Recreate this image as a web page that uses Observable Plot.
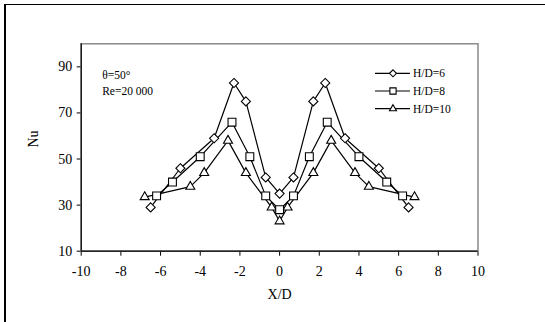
<!DOCTYPE html>
<html>
<head>
<meta charset="utf-8">
<script src="https://cdn.jsdelivr.net/npm/d3@7"></script>
<script src="https://cdn.jsdelivr.net/npm/@observablehq/plot@0.6"></script>
<style>
  html, body { margin: 0; padding: 0; background: #fff; }
  #wrap { position: relative; width: 545px; height: 322px; overflow: hidden; }
  #outer { position: absolute; left: 4px; top: 4px; right: -2px; bottom: -2px;
           border-left: 2px solid #000; border-top: 1.5px solid #000; pointer-events: none; }
  svg { display: block; }
</style>
</head>
<body>
<div id="wrap"><div id="outer"></div></div>
<script>
// Data
const xTicks = [-10, -8, -6, -4, -2, 0, 2, 4, 6, 8, 10];
const yTicks = [10, 30, 50, 70, 90];

const seriesNames = ["H/D=6", "H/D=8", "H/D=10"];
const seriesSymbols = ["diamond2", "square2", "triangle2"];

const xs6  = [-6.5, -5.0, -3.3, -2.3, -1.7, -0.7, 0, 0.7, 1.7, 2.3, 3.3, 5.0, 6.5];
const nu6  = [29, 46, 59, 83, 75, 42, 35, 42, 75, 83, 59, 46, 29];
const xs8  = [-6.2, -5.4, -4.0, -2.4, -1.5, -0.7, 0, 0.7, 1.5, 2.4, 4.0, 5.4, 6.2];
const nu8  = [34, 40, 51, 66, 51, 34, 28, 34, 51, 66, 51, 40, 34];
const xs10 = [-6.8, -4.5, -3.8, -2.6, -1.7, -0.4, 0, 0.4, 1.7, 2.6, 3.8, 4.5, 6.8];
const nu10 = [33.5, 38, 44, 58, 44, 29, 23, 29, 44, 58, 44, 38, 33.5];

const annotations = ["θ=50°", "Re=20 000"];

const toRows = (xs, ys) => xs.map((x, i) => ({x, y: ys[i]}));
const s6 = toRows(xs6, nu6);
const s8 = toRows(xs8, nu8);
const s10 = toRows(xs10, nu10);

const serif = "'Liberation Serif', 'Times New Roman', serif";

const chart = Plot.plot({
  width: 545,
  height: 322,
  marginLeft: 80.7,
  marginRight: 67.5,
  marginTop: 43.3,
  marginBottom: 71.3,
  style: {fontFamily: serif, fontSize: "14px", color: "#000", background: "transparent"},
  x: {domain: [-10, 10], ticks: xTicks, tickSize: 5, tickPadding: 10, label: null, tickFormat: d => String(d).replace("−", "-")},
  y: {domain: [10, 100], ticks: yTicks, tickSize: 4, tickPadding: 5, label: null},
  marks: [
    Plot.frame({stroke: "#8a8a8a", strokeWidth: 1.5}),
    Plot.ruleX([-10], {stroke: "#000", strokeWidth: 1.2}),
    Plot.ruleY([10], {stroke: "#000", strokeWidth: 1.2}),
    Plot.line(s10, {x: "x", y: "y", stroke: "#000", strokeWidth: 1.2}),
    Plot.line(s8, {x: "x", y: "y", stroke: "#000", strokeWidth: 1.2}),
    Plot.line(s6, {x: "x", y: "y", stroke: "#000", strokeWidth: 1.2}),
    Plot.dot(s10, {x: "x", y: "y", symbol: seriesSymbols[2], r: 4.3, fill: "#fff", stroke: "#000", strokeWidth: 1.1}),
    Plot.dot(s8, {x: "x", y: "y", symbol: seriesSymbols[1], r: 5.0, fill: "#fff", stroke: "#000", strokeWidth: 1.1}),
    Plot.dot(s6, {x: "x", y: "y", symbol: seriesSymbols[0], r: 4.1, fill: "#fff", stroke: "#000", strokeWidth: 1.1}),
    Plot.text([annotations[0]], {text: d => d, frameAnchor: "top-left", dx: 21, dy: 27.4, textAnchor: "start", fontSize: 11.5, fill: "#000"}),
    Plot.text([annotations[1]], {text: d => d, frameAnchor: "top-left", dx: 21, dy: 42.7, textAnchor: "start", fontSize: 11.5, fill: "#000"}),
    Plot.text(["X/D"], {text: d => d, frameAnchor: "bottom", dy: 47.3, fontSize: 14, fill: "#000"}),
    Plot.text(["Nu"], {text: d => d, frameAnchor: "left", dx: -48, rotate: -90, fontSize: 14, fill: "#000"})
  ]
});

// Legend built with d3 inside the chart SVG
const svg = d3.select(chart);
const legend = svg.append("g").attr("font-family", serif).attr("font-size", 11.5).attr("text-anchor", "start");
const legendSizes = [31, 49, 35];
const legendSym = [d3.symbolDiamond2, d3.symbolSquare2, d3.symbolTriangle2];
seriesNames.forEach((name, i) => {
  const g = legend.append("g").attr("transform", `translate(0, ${73.3 + i * 17.7})`);
  g.append("line").attr("x1", 375).attr("x2", 410).attr("y1", 0).attr("y2", 0)
    .attr("stroke", "#000").attr("stroke-width", 1.2);
  g.append("path").attr("d", d3.symbol(legendSym[i], legendSizes[i])())
    .attr("transform", "translate(393,0)")
    .attr("fill", "#fff").attr("stroke", "#000").attr("stroke-width", 1.1);
  g.append("text").attr("x", 413).attr("y", 0).attr("dy", "0.35em")
    .attr("text-anchor", "start").attr("fill", "#000").text(name);
});

document.getElementById("wrap").prepend(chart);
</script>
</body>
</html>
